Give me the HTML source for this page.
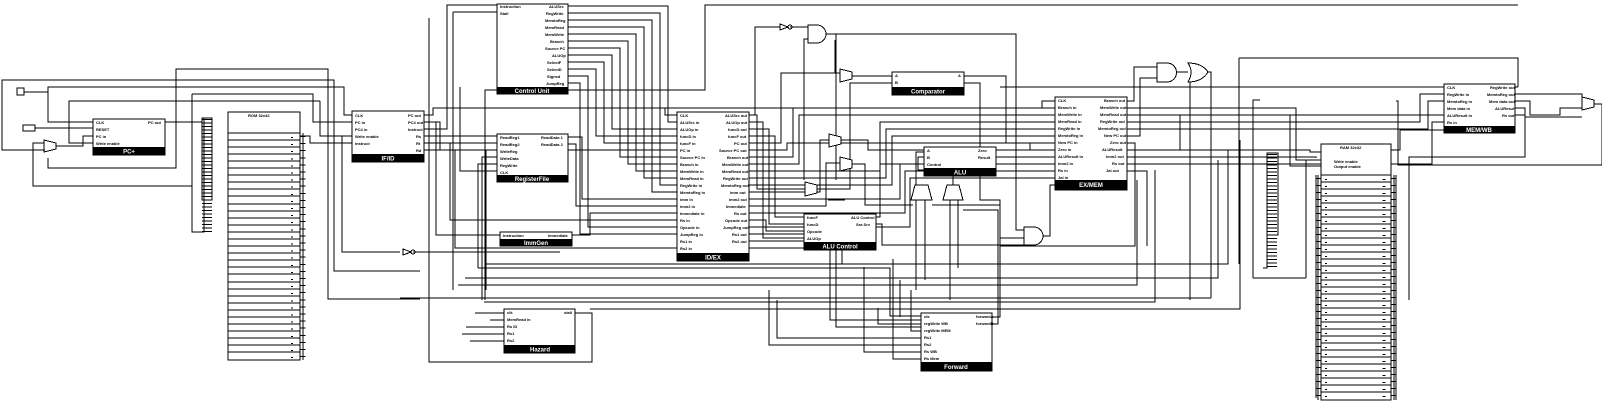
<!DOCTYPE html>
<html><head><meta charset="utf-8"><style>
html,body{margin:0;padding:0;background:#fff;width:1602px;height:403px;overflow:hidden}
svg{display:block}
.t{font-family:"Liberation Sans",sans-serif;font-size:4px;font-weight:bold;fill:#000}
.b{font-family:"Liberation Sans",sans-serif;font-size:6px;font-weight:bold;fill:#fff}
</style></head><body>
<svg width="1602" height="403" viewBox="0 0 1602 403" xmlns="http://www.w3.org/2000/svg" shape-rendering="crispEdges">
<g fill="none" stroke="#000" stroke-width="1">
<path d="M24 92H48V122H93M35 128H93M56 146H83V136H93M320 101H69V143H93M45 150H2V80H334V271H420M48 158V168H176V69H328V299H420M44 143H33V186H192M192 94V232H200M192 94H313V122H352M165 122H202M48 92V87H344V115H352M300 136H310V143H352M342 136V252H400M320 101V136H352M413 252H560"/>
<path d="M424 129H447V5H497M453 12H497M453 12V290M424 136H497M424 143H465V143H497M497 150H486V290M497 157H482V300M497 164H478V268M497 171H460V87M424 115H433V108H1042V101H1055M424 122H440V150H677M424 143H450V220H677M424 150H455V248H677M500 235H436V122H424M572 235H590V213H677M568 137H582V199H677M568 144H576V206H677M665 108V115H677M1518 5H705V90H485V300"/>
<path d="M568 6H668V122H677M568 13H660V185H677M568 20H652V192H677M568 27H644V178H677M568 34H636V171H677M568 41H628V164H677M568 48H620V157H677M568 55H612V129H677M568 62H604V143H677M568 69H596V136H677M568 76H588V227H677M568 83H580V234H677"/>
<path d="M749 115H757V189H805M749 122H763V238H804M749 129H769V224H804M749 136H775V217H804M749 143H781V73H840M749 150H787V143H1055M749 157H793V108H1055M749 164H799V115H1055M749 171H880V122H1055M749 178H886V129H1055M749 185H892V136H1055M749 192H820V140H829M749 199H900V164H1055M749 206H826V163H840M749 213H905V171H1055M749 220H766V231H804M749 227H910V178H1055M749 234H830V320H921M749 241H836V327H921M749 248H842V264"/>
<path d="M852 76H892M841 140H868V150H924M852 164H865V205H913M817 189H850V83H892M964 76H1006V143H1030M916 187V152H924M953 185V170H918V157H924M996 150H1030V150H1055M996 157H1040V157H1055M876 217H880V164H924M876 224H882V245H1024M916 200V290M925 200V280M950 200V300M958 200V268M755 115V27H780M790 27H808M808 39H804V180M826 34H1016V230H1024M836 34V180M1043 236H1050V185H1055M840 73H835V40M964 83H980V200H1000V238H1024"/>
<path d="M1127 101H1134V67H1157M1127 108H1296V160H1321M1127 115H1290V166H1321M1127 122H1420V94H1444M1127 129H1428V101H1444M1127 136H1140V78H1157M1127 143H1135V246H1000M1127 150H1310V152H1321M1127 157H1316V158M1127 164H1432V122H1444M1127 171H1147V246M1176 72H1188M1208 72H1211V298M1190 80V300M1000 87H1444M1239 58H1518V87M1239 58V264M1436 115H1444M1180 150V115H1436M1515 87H1518M1515 94H1582V100M1515 101H1530V115H1560V108H1582M1515 108H1525V117H1582M1515 115H1525V157H1409V300M1594 104H1602V165H1398V101H1396M1391 150H1400V130H1480"/>
<path d="M486 264H1228V150M478 268H890V316H921M465 278H1218V160M458 285H1137V180M400 298H1211M484 302H1155V170M590 309H1240V140M475 313H504M490 320H504M466 327H504V327M462 334H504M470 341H504M575 313H592V362H429V18M900 317V280M921 324H878V308M921 331H911V290M921 338H777V300M921 345H769V290M921 352H864V267M921 359H893V259M992 317H1000V205H932M992 324H998V210H963M1253 278V100H1260M1306 278V160M1253 278H1306M1030 143V150"/>
<rect x="17" y="88" width="7" height="7"/>
<rect x="23" y="125" width="12" height="6"/>
<path d="M44 140L56 143V149L44 152Z"/>
<rect x="93" y="119" width="72" height="36" fill="#fff"/>
<rect x="228" y="112" width="72" height="248" fill="#fff"/>
<path d="M228 133H300M228 140H300M228 147H300M228 154H300M228 161H300M228 168H300M228 175H300M228 182H300M228 189H300M228 196H300M228 204H300M228 211H300M228 218H300M228 225H300M228 232H300M228 239H300M228 246H300M228 253H300M228 260H300M228 267H300M228 274H300M228 282H300M228 289H300M228 296H300M228 303H300M228 310H300M228 317H300M228 324H300M228 331H300M228 338H300M228 345H300M228 352H300"/>
<path d="M303 133V360"/>
<rect x="202" y="118" width="10" height="82"/>
<path d="M204 118V232H200"/>
<rect x="352" y="111" width="72" height="51" fill="#fff"/>
<rect x="497" y="4" width="71" height="90" fill="#fff"/>
<rect x="497" y="134" width="71" height="48" fill="#fff"/>
<rect x="500" y="232" width="72" height="14" fill="#fff"/>
<rect x="677" y="112" width="72" height="149" fill="#fff"/>
<rect x="804" y="214" width="72" height="36" fill="#fff"/>
<rect x="892" y="72" width="72" height="23" fill="#fff"/>
<rect x="924" y="147" width="72" height="29" fill="#fff"/>
<rect x="1055" y="97" width="72" height="93" fill="#fff"/>
<rect x="1444" y="84" width="71" height="49" fill="#fff"/>
<rect x="504" y="309" width="71" height="44" fill="#fff"/>
<rect x="921" y="313" width="71" height="58" fill="#fff"/>
<rect x="1321" y="144" width="70" height="256" fill="#fff"/>
<path d="M1321 175H1391M1321 182H1391M1321 189H1391M1321 196H1391M1321 203H1391M1321 210H1391M1321 217H1391M1321 224H1391M1321 231H1391M1321 238H1391M1321 245H1391M1321 252H1391M1321 259H1391M1321 266H1391M1321 273H1391M1321 280H1391M1321 287H1391M1321 294H1391M1321 301H1391M1321 308H1391M1321 315H1391M1321 322H1391M1321 329H1391M1321 336H1391M1321 343H1391M1321 350H1391M1321 357H1391M1321 364H1391M1321 371H1391M1321 378H1391M1321 385H1391M1321 392H1391"/>
<path d="M1318 175V400M1394 175V400M1396 175V400M1316 175V398"/>
<rect x="1267" y="153" width="11" height="82"/>
<path d="M1267 153V268H1263"/>
<path d="M808 25H817A9 9 0 0 1 817 43H808Z" fill="#fff"/>
<path d="M1157 63H1167A9.5 9.5 0 0 1 1167 82H1157Z" fill="#fff"/>
<path d="M1188 63Q1194 72 1188 82Q1202 82 1208 72Q1202 63 1188 63Z" fill="#fff"/>
<path d="M1024 227H1034A9 9 0 0 1 1034 245H1024Z" fill="#fff"/>
<path d="M780 24L788 27L780 30Z"/><circle cx="790" cy="27" r="2"/>
<path d="M403 249L411 252L403 255Z"/><circle cx="413" cy="252" r="2"/>
<path d="M840 69L852 72V79L840 82Z" fill="#fff"/>
<path d="M829 134L841 137V144L829 147Z" fill="#fff"/>
<path d="M840 157L852 160V168L840 171Z" fill="#fff"/>
<path d="M805 182L817 185V193L805 196Z" fill="#fff"/>
<path d="M1582 97L1594 100V107L1582 110Z" fill="#fff"/>
<path d="M915 185H928L932 200H911Z" fill="#fff"/>
<path d="M947 185H959L963 200H943Z" fill="#fff"/>
<path d="M828 200H845"/>
</g>
<line x1="207" y1="119" x2="207" y2="232" stroke="#000" stroke-width="10" stroke-dasharray="1 2.5"/>
<line x1="1272" y1="154" x2="1272" y2="268" stroke="#000" stroke-width="10" stroke-dasharray="1 2.5"/>
<line x1="303" y1="136" x2="303" y2="360" stroke="#000" stroke-width="5" stroke-dasharray="1 6.1"/>
<line x1="292" y1="137" x2="292" y2="360" stroke="#000" stroke-width="2" stroke-dasharray="1 6.1"/>
<line x1="1318" y1="178" x2="1318" y2="400" stroke="#000" stroke-width="5" stroke-dasharray="1 6"/>
<line x1="1394" y1="178" x2="1394" y2="400" stroke="#000" stroke-width="5" stroke-dasharray="1 6"/>
<line x1="1326" y1="179" x2="1326" y2="400" stroke="#000" stroke-width="2" stroke-dasharray="1 6"/>
<line x1="1384" y1="179" x2="1384" y2="400" stroke="#000" stroke-width="3" stroke-dasharray="1 6"/>
<g fill="#000">
<rect x="93" y="147" width="72" height="8"/>
<rect x="352" y="154" width="72" height="8"/>
<rect x="497" y="87" width="71" height="7"/>
<rect x="497" y="175" width="71" height="7"/>
<rect x="500" y="239" width="72" height="7"/>
<rect x="677" y="253" width="72" height="8"/>
<rect x="804" y="242" width="72" height="8"/>
<rect x="892" y="87" width="72" height="8"/>
<rect x="924" y="168" width="72" height="8"/>
<rect x="1055" y="180" width="72" height="10"/>
<rect x="1444" y="126" width="71" height="7"/>
<rect x="504" y="345" width="71" height="8"/>
<rect x="921" y="362" width="71" height="9"/>
</g>
<g class="b" text-anchor="middle">
<text x="129" y="153.5">PC+</text><text x="388" y="160.5">IF/ID</text><text x="532" y="93">Control Unit</text>
<text x="532" y="181">RegisterFile</text><text x="536" y="245">ImmGen</text><text x="713" y="259.5">ID/EX</text>
<text x="840" y="248.5">ALU Control</text><text x="928" y="93.5">Comparator</text><text x="960" y="174.5">ALU</text>
<text x="1091" y="187">EX/MEM</text><text x="1479" y="132">MEM/WB</text><text x="540" y="351.5">Hazard</text><text x="956" y="369">Forward</text>
</g>
<g class="t">
<text x="96" y="124">CLK</text><text x="96" y="131">RESET</text><text x="96" y="138">PC in</text><text x="96" y="145">Write enable</text><text x="148" y="124">PC out</text>
<text x="248" y="117">ROM 32x32</text>
<text x="355" y="117">CLK</text><text x="355" y="124">PC in</text><text x="355" y="131">PC4 in</text><text x="355" y="138">Write enable</text><text x="355" y="145">Instruct</text>
<text x="408" y="117">PC out</text><text x="408" y="124">PC4 out</text><text x="408" y="131">Instruct</text><text x="416" y="138">Rs</text><text x="416" y="145">Rt</text><text x="416" y="152">Rd</text>
<text x="500" y="8">Instruction</text><text x="500" y="15">Stall</text>
<text x="549" y="8">ALUSrc</text><text x="546" y="15">RegWrite</text><text x="545" y="22">MemtoReg</text><text x="545" y="29">MemRead</text><text x="545" y="36">MemWrite</text><text x="550" y="43">Branch</text><text x="545" y="50">Source PC</text><text x="552" y="57">ALUOp</text><text x="547" y="64">SelectF</text><text x="547" y="71">SelectD</text><text x="547" y="78">Signed</text><text x="546" y="85">JumpReg</text>
<text x="500" y="139">ReadReg1</text><text x="500" y="146">ReadReg2</text><text x="500" y="153">WriteReg</text><text x="500" y="160">WriteData</text><text x="500" y="167">RegWrite</text><text x="500" y="174">CLK</text>
<text x="541" y="139">ReadData 1</text><text x="541" y="146">ReadData 2</text>
<text x="503" y="237">Instruction</text><text x="548" y="237">Immediate</text>
<text x="680" y="117">CLK</text><text x="680" y="124">ALUSrc in</text><text x="680" y="131">ALUOp in</text><text x="680" y="138">funcD in</text><text x="680" y="145">funcF in</text><text x="680" y="152">PC in</text><text x="680" y="159">Source PC in</text><text x="680" y="166">Branch in</text><text x="680" y="173">MemWrite in</text><text x="680" y="180">MemRead in</text><text x="680" y="187">RegWrite in</text><text x="680" y="194">MemtoReg in</text><text x="680" y="201">imm in</text><text x="680" y="208">imm2 in</text><text x="680" y="215">Immediate in</text><text x="680" y="222">Rs in</text><text x="680" y="229">Opcode in</text><text x="680" y="236">JumpReg in</text><text x="680" y="243">Rs1 in</text><text x="680" y="250">Rs2 in</text>
<text x="725" y="117">ALUSrc out</text><text x="726" y="124">ALUOp out</text><text x="728" y="131">funcD out</text><text x="728" y="138">funcF out</text><text x="734" y="145">PC out</text><text x="719" y="152">Source PC out</text><text x="727" y="159">Branch out</text><text x="722" y="166">MemWrite out</text><text x="722" y="173">MemRead out</text><text x="723" y="180">RegWrite out</text><text x="721" y="187">MemtoReg out</text><text x="730" y="194">imm out</text><text x="729" y="201">imm2 out</text><text x="726" y="208">Immediate</text><text x="734" y="215">Rs out</text><text x="725" y="222">Opcode out</text><text x="723" y="229">JumpReg out</text><text x="732" y="236">Rs1 out</text><text x="732" y="243">Rs2 out</text>
<text x="807" y="219">funcF</text><text x="807" y="226">funcD</text><text x="807" y="233">Opcode</text><text x="807" y="240">ALUOp</text><text x="851" y="219">ALU Control</text><text x="856" y="226">Sra Srv</text>
<text x="895" y="77">A</text><text x="895" y="84">B</text><text x="958" y="77">A</text>
<text x="927" y="152">A</text><text x="927" y="159">B</text><text x="927" y="166">Control</text><text x="978" y="152">Zero</text><text x="978" y="159">Result</text>
<text x="1058" y="102">CLK</text><text x="1058" y="109">Branch in</text><text x="1058" y="116">MemWrite in</text><text x="1058" y="123">MemRead in</text><text x="1058" y="130">RegWrite in</text><text x="1058" y="137">MemtoReg in</text><text x="1058" y="144">New PC in</text><text x="1058" y="151">Zero in</text><text x="1058" y="158">ALUResult in</text><text x="1058" y="165">imm2 in</text><text x="1058" y="172">Rs in</text><text x="1058" y="179">Jal in</text>
<text x="1104" y="102">Branch out</text><text x="1100" y="109">MemWrite out</text><text x="1100" y="116">MemRead out</text><text x="1100" y="123">RegWrite out</text><text x="1098" y="130">MemtoReg out</text><text x="1104" y="137">New PC out</text><text x="1110" y="144">Zero out</text><text x="1102" y="151">ALUResult</text><text x="1106" y="158">imm2 out</text><text x="1112" y="165">Rs out</text><text x="1106" y="172">Jal out</text>
<text x="1447" y="89">CLK</text><text x="1447" y="96">RegWrite in</text><text x="1447" y="103">MemtoReg in</text><text x="1447" y="110">Mem data in</text><text x="1447" y="117">ALUResult in</text><text x="1447" y="124">Rs in</text>
<text x="1490" y="89">RegWrite out</text><text x="1487" y="96">MemtoReg out</text><text x="1489" y="103">Mem data out</text><text x="1495" y="110">ALUResult</text><text x="1502" y="117">Rs out</text>
<text x="1340" y="149">RAM 32x32</text><text x="1334" y="163">Write enable</text><text x="1334" y="168">Output enable</text>
<text x="507" y="314">clk</text><text x="507" y="321">MemRead in</text><text x="507" y="328">Rs ID</text><text x="507" y="335">Rs1</text><text x="507" y="342">Rs2</text><text x="564" y="314">stall</text>
<text x="924" y="318">clk</text><text x="924" y="325">regWrite WB</text><text x="924" y="332">regWrite MEM</text><text x="924" y="339">Rs1</text><text x="924" y="346">Rs2</text><text x="924" y="353">Rs WB</text><text x="924" y="360">Rs Mem</text><text x="976" y="318">forwardA</text><text x="976" y="325">forwardB</text>
</g>
</svg>
</body></html>
